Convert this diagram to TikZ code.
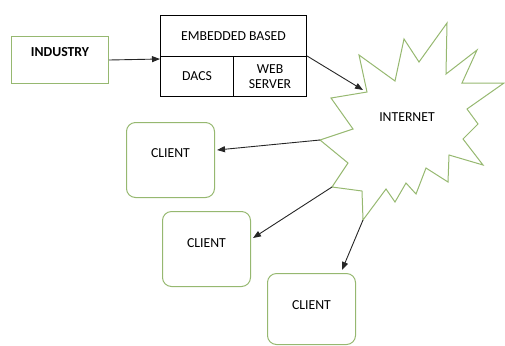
\documentclass[tikz,border=0pt]{standalone}
\usepackage{fontspec}
\setmainfont{Carlito}
\usetikzlibrary{arrows.meta}
\definecolor{leafgreen}{RGB}{150,184,112}
\tikzset{
  every node/.style={font=\fontsize{13.8}{15}\selectfont},
  greenbox/.style={draw=leafgreen, line width=1bp, rectangle, inner sep=0pt, anchor=north west},
  clientbox/.style={greenbox, rounded corners=9bp, minimum width=88bp, minimum height=75bp},
  blackbox/.style={draw=black, line width=1.1bp, rectangle, inner sep=0pt, anchor=north west, align=center},
  link/.style={draw=black!85, line width=0.9bp, -{Triangle[length=8bp,width=6bp]}},
}
\begin{document}
\begin{tikzpicture}[x=1bp, y=-1bp]
\useasboundingbox (0,0) rectangle (505,345);

% industry source
\node[greenbox, minimum width=97bp, minimum height=47bp,
      label={[font=\fontsize{13.8}{15}\selectfont\bfseries, yshift=8bp]center:INDUSTRY}] (ind) at (11,36) {};

% embedded system block
\node[blackbox, minimum width=146bp, minimum height=41bp] (emb) at (160,15) {EMBEDDED BASED};
\node[blackbox, minimum width=73bp, minimum height=40bp] (dacs) at (160,56) {DACS};
\node[blackbox, minimum width=73bp, minimum height=40bp] (web) at (233,56) {WEB\\SERVER};

% internet cloud (starburst)
\draw[leafgreen, line width=1bp, line join=miter]
  (359,55) coordinate (s1) -- (395,81) -- (404,39) -- (419,62) -- (447,23) -- (446,74)
  -- (477,50) -- (462,83) -- (504,83) -- (467,109) -- (478,124) -- (463,139)
  -- (483,165) -- (449,155) -- (448,182) -- (426,168) -- (416,194) -- (406,183)
  -- (395,202) -- (386,189) -- (363,220) coordinate (s3) -- (362,191) -- (332,187) coordinate (s2)
  -- (348,163) -- (320,140) coordinate (s0) -- (353,129) -- (331,98) -- (367,92) coordinate (sin) -- cycle;
\node (net) at (407,117) {INTERNET};

% clients
\node[clientbox, label={[yshift=7bp]center:CLIENT}] (c1) at (126,122) {};
\node[clientbox, label={[yshift=6bp]center:CLIENT}] (c2) at (162,211) {};
\node[clientbox, minimum height=71bp, label={[yshift=4bp]center:CLIENT}] (c3) at (267,273) {};

% connections
\draw[link] (ind.east) -- ([yshift=-3bp]dacs.north west);
\draw[link] (web.north east) -- ([xshift=-4bp,yshift=2bp]sin);
\draw[link] (s0) -- ([xshift=2bp,yshift=10bp]c1.east);
\draw[link] (s2) -- ([xshift=2bp,yshift=11bp]c2.east);
\draw[link] (s3) -- ([xshift=-14bp,yshift=3bp]c3.north east);
\end{tikzpicture}
\end{document}
